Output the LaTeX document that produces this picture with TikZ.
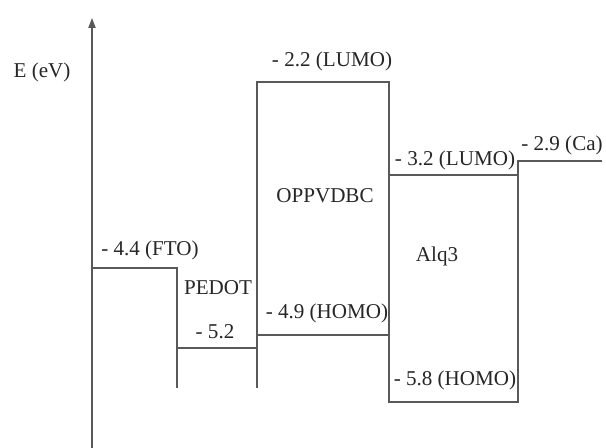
\documentclass[tikz,border=0pt]{standalone}
\usepackage{fontspec}
\setmainfont{Liberation Serif}
\usepackage{tkz-euclide}
\usetikzlibrary{arrows.meta}
\tikzset{level/.style={color=black!65,line width=1.2pt,line cap=rect},
  lbl/.style={text=black!85,font=\fontsize{15}{18}\selectfont,inner sep=0pt}}

\begin{document}
\begin{tikzpicture}
                \useasboundingbox (0,0) rectangle (15.15,11.2);
                \tkzDefPoint(2.3,0){O}
                \tkzDefPoint(2.3,10.75){E}

                % FTO and PEDOT
                \tkzDefPoint(2.3,4.5){F1}
                \tkzDefPoint(4.425,4.5){F2}
                \tkzDefPoint(4.425,1.525){F3}
                \tkzDefPoint(4.425,2.5){P1}
                \tkzDefPoint(6.425,2.5){P2}

                % OPPVDBC
                \tkzDefPoint(6.425,1.525){Q1}
                \tkzDefPoint(6.425,9.15){Q2}
                \tkzDefPoint(9.725,9.15){Q3}
                \tkzDefPoint(9.725,1.15){Q4}
                \tkzDefPoint(6.425,2.825){H1}
                \tkzDefPoint(9.725,2.825){H2}

                % Alq3 and Ca
                \tkzDefPoint(9.725,6.825){L1}
                \tkzDefPoint(12.95,6.825){L2}
                \tkzDefPoint(12.95,1.15){R2}
                \tkzDefPoint(12.95,7.175){R3}
                \tkzDefPoint(15.025,7.175){R4}

                \tkzDrawSegment[level,line cap=butt,-{Triangle[length=7pt,width=5pt]}](O,E)
                \tkzDrawSegments[level](F1,F2 F2,F3 P1,P2)
                \tkzDrawSegments[level](Q1,Q2 Q2,Q3 Q3,Q4 H1,H2)
                \tkzDrawSegments[level](L1,L2 Q4,R2 R2,R3 R3,R4)

                \node[lbl] (eunit) at (1.05,9.4) {E (eV)};
                \node[lbl] (fto) at (3.75,4.95) {- 4.4 (FTO)};
                \node[lbl] (pedot) at (5.45,4.0) {PEDOT};
                \node[lbl] (pedotlv) at (5.375,2.9) {- 5.2};
                \node[lbl] (oppvL) at (8.3,9.675) {- 2.2 (LUMO)};
                \node[lbl] (oppv) at (8.125,6.3) {OPPVDBC};
                \node[lbl] (oppvH) at (8.175,3.375) {- 4.9 (HOMO)};
                \node[lbl] (alqL) at (11.375,7.2) {- 3.2 (LUMO)};
                \node[lbl] (alq) at (10.925,4.8) {Alq3};
                \node[lbl] (alqH) at (11.375,1.7) {- 5.8 (HOMO)};
                \node[lbl] (ca) at (14.05,7.575) {- 2.9 (Ca)};

            \end{tikzpicture}
\end{document}
